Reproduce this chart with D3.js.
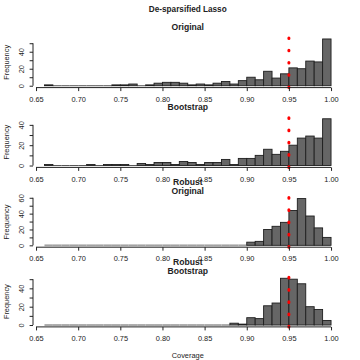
<!DOCTYPE html>
<html>
<head>
<meta charset="utf-8">
<script src="https://cdn.jsdelivr.net/npm/d3@7"></script>
<style>
  body { margin: 0; background: #fff; }
  text { font-family: "Liberation Sans", Arial, sans-serif; fill: #222; }
</style>
</head>
<body>
<div id="chart"></div>
<script>
// Histogram bin edges (coverage)
const breaks = [0.66, 0.67, 0.68, 0.69, 0.70, 0.71, 0.72, 0.73, 0.74, 0.75, 0.76, 0.77,
                0.78, 0.79, 0.80, 0.81, 0.82, 0.83, 0.84, 0.85, 0.86, 0.87, 0.88, 0.89,
                0.90, 0.91, 0.92, 0.93, 0.94, 0.95, 0.96, 0.97, 0.98, 0.99, 1.00];

// Counts per bin, one array per panel
const originalCounts = [1, 0, 0, 0, 0, 0, 0, 0, 1, 1, 2, 0, 1, 3, 4, 4, 3, 1, 2, 1, 3, 5, 2, 6,
                        10, 7, 17, 9, 14, 21, 20, 29, 28, 55];
const bootstrapCounts = [1, 0, 0, 0, 0, 1, 0, 1, 1, 1, 0, 2, 1, 3, 3, 1, 4, 3, 1, 3, 3, 6, 1, 7,
                         7, 10, 16, 11, 14, 20, 27, 29, 27, 46];
const robustOriginalCounts = [0, 0, 0, 0, 0, 0, 0, 0, 0, 0, 0, 0, 0, 0, 0, 0, 0, 0, 0, 0, 0, 0, 0, 0,
                              4, 5, 20, 24, 29, 44, 59, 37, 22, 10];
const robustBootstrapCounts = [0, 0, 0, 0, 0, 0, 0, 0, 0, 0, 0, 0, 0, 0, 0, 0, 0, 0, 0, 0, 0, 0, 2, 1,
                               8, 7, 21, 24, 51, 50, 45, 20, 17, 5];

const panelTitles = [["Original"], ["Bootstrap"], ["Robust", "Original"], ["Robust", "Bootstrap"]];
const panelCounts = [originalCounts, bootstrapCounts, robustOriginalCounts, robustBootstrapCounts];

const xTicks = [0.65, 0.70, 0.75, 0.80, 0.85, 0.90, 0.95, 1.00];
const nominal = 0.95;

// Layout
const width = 360, height = 360;
const plotLeft = 33, plotRight = 342.5;
const panelHeight = 50.5;
const panelBottoms = [87.6, 167.4, 247.2, 326.9];
const zeroColors = ["#555", "#555", "#a3a3a3", "#a3a3a3"];

const svg = d3.select("#chart").append("svg")
    .attr("width", width)
    .attr("height", height);

// R-style axis range: breaks range extended by 4%
const xMin = breaks[0], xMax = breaks[breaks.length - 1];
const xPad = (xMax - xMin) * 0.04;
const x = d3.scaleLinear().domain([xMin - xPad, xMax + xPad]).range([plotLeft, plotRight]);

svg.append("text")
    .attr("x", (plotLeft + plotRight) / 2)
    .attr("y", 9)
    .attr("text-anchor", "middle")
    .attr("dominant-baseline", "central")
    .attr("font-size", "8.2px")
    .attr("font-weight", "bold")
    .text("De-sparsified Lasso");

panelCounts.forEach((counts, p) => {
    const bottom = panelBottoms[p], top = bottom - panelHeight;
    const maxCount = d3.max(counts);
    const y = d3.scaleLinear()
        .domain([-0.04 * maxCount, 1.04 * maxCount])
        .range([bottom, top]);

    const g = svg.append("g");

    const bins = counts.map((c, i) => ({ x0: breaks[i], x1: breaks[i + 1], count: c }));

    // zero-count bins show as a flat line
    g.selectAll(".zero")
        .data(bins.filter(d => d.count === 0))
        .enter().append("line")
        .attr("x1", d => x(d.x0))
        .attr("x2", d => x(d.x1))
        .attr("y1", y(0))
        .attr("y2", y(0))
        .attr("stroke", zeroColors[p])
        .attr("stroke-width", p > 1 ? 1.8 : 1);

    g.selectAll(".bar")
        .data(bins.filter(d => d.count > 0))
        .enter().append("rect")
        .attr("class", "bar")
        .attr("x", d => x(d.x0))
        .attr("width", d => x(d.x1) - x(d.x0))
        .attr("y", d => y(d.count))
        .attr("height", d => y(0) - y(d.count))
        .attr("fill", "#666")
        .attr("stroke", "#1e1e1e")
        .attr("stroke-width", 0.9);

    // dotted reference line at nominal coverage
    g.append("line")
        .attr("x1", x(nominal)).attr("x2", x(nominal))
        .attr("y1", bottom).attr("y2", top)
        .attr("stroke", "#ff0000")
        .attr("stroke-width", 3)
        .attr("stroke-linecap", "round")
        .attr("stroke-dasharray", "0.6 11.65");

    // x axis
    const xAxis = g.append("g")
        .attr("transform", `translate(0,${bottom})`)
        .call(d3.axisBottom(x).tickValues(xTicks).tickFormat(d3.format(".2f"))
            .tickSize(3.5).tickPadding(5.5));
    xAxis.select(".domain").remove();
    xAxis.append("line")
        .attr("x1", x(xTicks[0])).attr("x2", x(xTicks[xTicks.length - 1]))
        .attr("stroke", "#222");
    xAxis.selectAll("text").attr("font-size", "7.4px").attr("fill", "#222");
    xAxis.selectAll(".tick line").attr("stroke", "#222");

    // y axis
    const yTicks = d3.range(0, y.domain()[1], 10);
    const yAxis = g.append("g")
        .attr("transform", `translate(${plotLeft},0)`)
        .call(d3.axisLeft(y).tickValues(yTicks).tickSize(3.4)
            .tickFormat(d => d % 20 === 0 ? d : ""));
    yAxis.select(".domain").remove();
    yAxis.append("line")
        .attr("y1", y(0)).attr("y2", y(yTicks[yTicks.length - 1]))
        .attr("stroke", "#222");
    yAxis.selectAll(".tick line").attr("stroke", "#222");
    yAxis.selectAll("text")
        .attr("transform", "rotate(-90)")
        .attr("x", 0)
        .attr("y", -8.6)
        .attr("dy", null)
        .attr("text-anchor", "middle")
        .attr("font-size", "7.4px")
        .attr("fill", "#222");

    g.append("text")
        .attr("transform", `translate(8.6,${(top + bottom) / 2}) rotate(-90)`)
        .attr("text-anchor", "middle")
        .attr("font-size", "7.4px")
        .text("Frequency");

    // panel title, multi-line titles centred on the same spot
    const lines = panelTitles[p];
    const lineGap = 8.8;
    lines.forEach((t, i) => {
        g.append("text")
            .attr("x", (plotLeft + plotRight) / 2)
            .attr("y", top - 10 + (i - (lines.length - 1) / 2) * lineGap)
            .attr("text-anchor", "middle")
            .attr("dominant-baseline", "central")
            .attr("font-size", "8.6px")
            .attr("font-weight", "bold")
            .text(t);
    });
});

svg.append("text")
    .attr("x", (plotLeft + plotRight) / 2)
    .attr("y", 355)
    .attr("text-anchor", "middle")
    .attr("dominant-baseline", "central")
    .attr("font-size", "7.4px")
    .text("Coverage");
</script>
</body>
</html>
